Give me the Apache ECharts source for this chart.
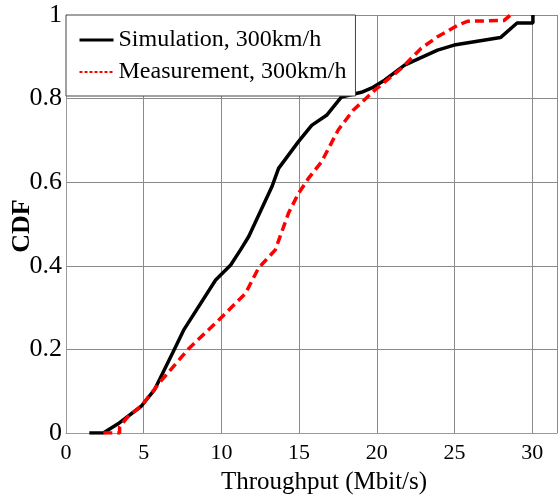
<!DOCTYPE html>
<html>
<head>
<meta charset="utf-8">
<script src="https://cdn.jsdelivr.net/npm/echarts@6/dist/echarts.min.js"></script>
<style>html,body{margin:0;padding:0;background:#fff}#c{width:560px;height:499px}</style>
</head>
<body>
<div id="c"></div>
<script>
const seriesNames = ['Simulation, 300km/h', 'Measurement, 300km/h'];
const simX = [1.5, 2.4, 3.35, 4.84, 5.69, 6.97, 7.6, 9.63, 10.6, 11.23, 11.76, 13.25, 13.68, 14.96, 15.81, 16.77, 17.73, 19.01, 19.76, 20.5, 21.79, 23.91, 24.98, 27.96, 29.03, 30.05, 30.05];
const simY = [0, 0, 0.022, 0.064, 0.103, 0.2, 0.248, 0.366, 0.402, 0.438, 0.47, 0.589, 0.633, 0.697, 0.736, 0.76, 0.804, 0.815, 0.827, 0.844, 0.88, 0.916, 0.928, 0.946, 0.981, 0.981, 1.0];
const meaX = [2.4, 3.45, 3.45, 4.0, 4.84, 6.01, 7.93, 9.85, 11.55, 12.4, 13.47, 14.32, 14.96, 15.6, 16.45, 17.52, 18.48, 19.87, 21.57, 22.85, 23.91, 25.19, 25.83, 28.2, 28.6];
const meaY = [0, 0, 0.015, 0.04, 0.064, 0.12, 0.203, 0.271, 0.334, 0.395, 0.438, 0.526, 0.573, 0.609, 0.649, 0.725, 0.772, 0.82, 0.872, 0.92, 0.948, 0.975, 0.985, 0.987, 1.0];
const xTicks = [0, 5, 10, 15, 20, 25, 30];
const yTicks = [0, 0.2, 0.4, 0.6, 0.8, 1];
const xTitle = 'Throughput (Mbit/s)';
const yTitle = 'CDF';

const font = '"Liberation Serif", "Times New Roman", serif';
const chart = echarts.init(document.getElementById('c'));
const fmtY = v => {
  for (const t of yTicks) if (Math.abs(t - v) < 1e-6) return String(t);
  return '';
};
const fmtX = v => xTicks.includes(v) ? String(v) : '';
chart.setOption({
  animation: false,
  backgroundColor: '#fff',
  grid: { left: 66, top: 15, right: 0, bottom: 66, containLabel: false },
  xAxis: {
    type: 'value', min: 0, max: 31.6, interval: 5,
    axisLine: { show: true, onZero: false, lineStyle: { color: '#999', width: 1 } },
    axisTick: { show: false },
    splitLine: { show: true, lineStyle: { color: '#8a8a8a', width: 1 } },
    axisLabel: { formatter: fmtX, color: '#000', fontFamily: font, fontSize: 22, margin: 9, showMaxLabel: true }
  },
  yAxis: {
    type: 'value', min: 0, max: 1, interval: 0.2,
    axisLine: { show: true, lineStyle: { color: '#999', width: 1 } },
    axisTick: { show: false },
    splitLine: { show: true, lineStyle: { color: '#8a8a8a', width: 1 } },
    axisLabel: { formatter: fmtY, color: '#000', fontFamily: font, fontSize: 26, margin: 4 }
  },
  legend: {
    orient: 'vertical', left: 66, top: 15,
    padding: [12, 9, 11, 12], itemGap: 6, itemWidth: 34, itemHeight: 14,
    backgroundColor: '#fff', borderColor: '#444', borderWidth: 1,
    textStyle: { color: '#000', fontFamily: font, fontSize: 24, lineHeight: 26 },
    data: [
      { name: seriesNames[0], itemStyle: { opacity: 0 }, lineStyle: { color: '#000', width: 3, type: 'solid' } },
      { name: seriesNames[1], itemStyle: { opacity: 0 }, lineStyle: { color: '#ff0000', width: 2, type: [3, 2] } }
    ]
  },
  graphic: [
    { type: 'text', style: { text: xTitle, font: '25px ' + font, fill: '#000', textAlign: 'center', textVerticalAlign: 'middle', x: 324, y: 482 } },
    { type: 'text', rotation: Math.PI / 2, position: [22.5, 226], style: { text: yTitle, font: 'bold 26px ' + font, fill: '#000', textAlign: 'center', textVerticalAlign: 'middle' } }
  ],
  series: [
    { name: seriesNames[0], type: 'line', symbol: 'none', data: simX.map((x, i) => [x, simY[i]]),
      lineStyle: { color: '#000', width: 3.5 }, itemStyle: { color: '#000' }, z: 3 },
    { name: seriesNames[1], type: 'line', symbol: 'none', data: meaX.map((x, i) => [x, meaY[i]]),
      lineStyle: { color: '#ff0000', width: 3.5, type: [9, 5] }, itemStyle: { color: '#ff0000' }, z: 4 }
  ]
});
</script>
</body>
</html>
